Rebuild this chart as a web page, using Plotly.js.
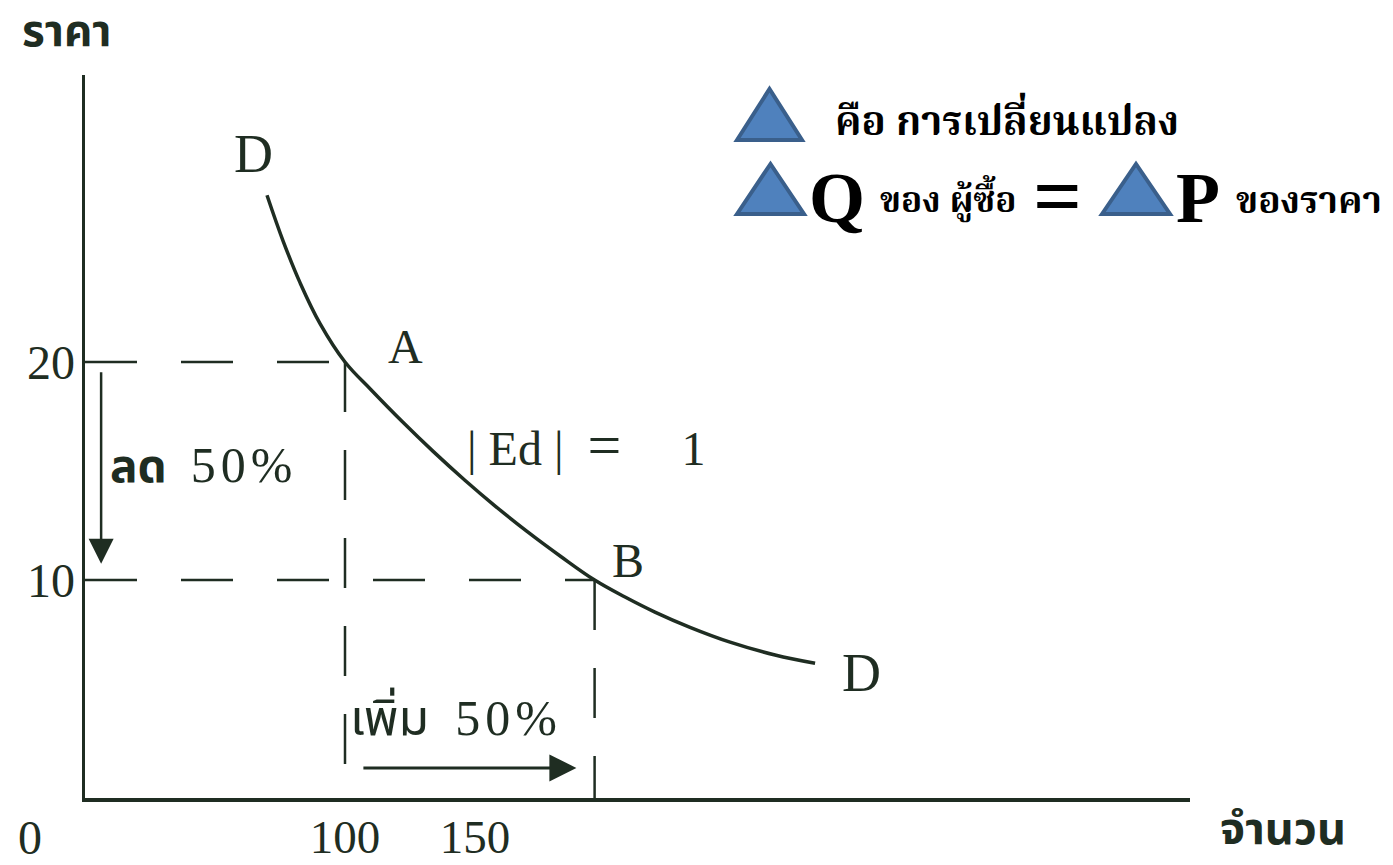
<!DOCTYPE html>
<html>
<head>
<meta charset="utf-8">
<script src="https://cdn.plot.ly/plotly-3.0.1.min.js"></script>
<style>html,body{margin:0;padding:0;background:#fff}#chart{width:1393px;height:865px}</style>
</head>
<body>
<div id="chart"></div>
<script>
// ---- data (axis units) ----
const quantity = [70, 76.2, 82.7, 90.4, 100, 110, 122, 134, 146, 158, 170, 183, 196, 207.7, 219.2, 232.7, 248.1, 265.4, 280.8];
const price    = [27.65, 25.55, 23.64, 21.76, 20, 18.73, 17.27, 15.89, 14.59, 13.37, 12.23, 11.08, 10, 9.22, 8.53, 7.83, 7.15, 6.56, 6.18];
const pointNames = ['A', 'B'];
const pointQ = [100, 196];
const pointP = [20, 10];
const xTickVals = [100, 150];
const xTickText = ['100', '150'];
const yTickVals = [10, 20];
const yTickText = ['10', '20'];
const originLabel = '0';
const yAxisLabel = 'ราคา';
const xAxisLabel = 'จำนวน';
const curveLabel = 'D';
const priceChangeWord = 'ลด';
const qtyChangeWord = 'เพิ่ม';
const changePct = '50%';
const elasticityParts = ['|', 'Ed', '|', '=', '1'];
const legendLine1 = 'คือ การเปลี่ยนแปลง';
const legendQ = 'Q', legendP = 'P';
const legendQText = 'ของ ผู้ซื้อ';
const legendPText = 'ของราคา';

// ---- style ----
const INK = '#1f2d22';
const SERIF = '"Liberation Serif", "Times New Roman", serif';
const THAI = '"Noto Sans Thai", "Noto Sans", "DejaVu Sans", sans-serif';
const THAI_SERIF = '"Noto Serif Thai", "Noto Sans Thai", "Liberation Serif", serif';
const TRI_FILL = '#4f81bd', TRI_LINE = '#3a5f8b';

const M = {l: 85, r: 203, t: 75, b: 67};
const W = 1393, H = 865;
const PW = W - M.l - M.r, PH = H - M.t - M.b;
const fx = px => (px - M.l) / PW;
const fy = py => (H - M.b - py) / PH;

const traces = [];
// demand curve
traces.push({x: quantity, y: price, mode: 'lines', line: {color: INK, width: 3.5, shape: 'spline', smoothing: 1.1}, hoverinfo: 'skip', showlegend: false});
// dashed guide lines from A and B
for (let i = 0; i < pointQ.length; i++) {
  traces.push({x: [0, pointQ[i]], y: [pointP[i], pointP[i]], mode: 'lines', line: {color: INK, width: 2.5, dash: '52px,44px'}, hoverinfo: 'skip', showlegend: false});
  traces.push({x: [pointQ[i], pointQ[i]], y: [pointP[i], 0], mode: 'lines', line: {color: INK, width: 2.5, dash: '50px,38px'}, hoverinfo: 'skip', showlegend: false});
}

const ann = [];
const txt = (text, x, y, size, family, opts) => Object.assign({text, x: fx(x), y: fy(y), xref: 'paper', yref: 'paper', showarrow: false, font: {size, family, color: INK}, xanchor: 'center', yanchor: 'middle'}, opts || {});
const serifSpan = s => `<span style="font-family:'Liberation Serif', serif;font-size:50px;letter-spacing:5px">${s}</span>`;
const sp = n => '\u00a0'.repeat(n);

ann.push(txt(yAxisLabel, 67, 33, 44, THAI, {font: {size: 44, family: THAI, color: INK, weight: 'bold'}}));
ann.push(txt(xAxisLabel, 1283, 830, 45, THAI, {font: {size: 45, family: THAI, color: INK, weight: 'bold'}}));
ann.push(txt(originLabel, 30, 837, 48, SERIF));
// point labels A, B
ann.push({text: pointNames[0], x: pointQ[0], y: pointP[0], xref: 'x', yref: 'y', showarrow: false, xshift: 60, yshift: 16, font: {size: 48, family: SERIF, color: INK}});
ann.push({text: pointNames[1], x: pointQ[1], y: pointP[1], xref: 'x', yref: 'y', showarrow: false, xshift: 33, yshift: 20, font: {size: 48, family: SERIF, color: INK}});
// curve labels D
ann.push({text: curveLabel, x: quantity[0], y: price[0], xref: 'x', yref: 'y', showarrow: false, xshift: -14, yshift: 41, font: {size: 54, family: SERIF, color: INK}});
ann.push({text: curveLabel, x: quantity[quantity.length - 1], y: price[price.length - 1], xref: 'x', yref: 'y', showarrow: false, xshift: 46, yshift: -10, font: {size: 54, family: SERIF, color: INK}});
// elasticity
const e = elasticityParts;
ann.push(txt(e[0] + sp(1) + e[1] + sp(1) + e[2] + sp(2) + '<span style="font-size:60px">' + e[3] + '</span>' + sp(5) + e[4], 465, 445, 48, SERIF, {xanchor: 'left'}));
// change labels
ann.push(txt('<b>' + priceChangeWord + '</b>' + sp(2) + serifSpan(changePct), 108, 468, 46, THAI, {xanchor: 'left'}));
ann.push(txt(qtyChangeWord + sp(2) + serifSpan(changePct), 348, 720, 50, THAI, {xanchor: 'left'}));
// arrows
ann.push({text: '', x: pointQ[0] * 0.062, y: pointP[1] + 0.75, ax: pointQ[0] * 0.062, ay: pointP[0] - 0.4, xref: 'x', yref: 'y', axref: 'x', ayref: 'y', showarrow: true, arrowhead: 2, arrowsize: 2, arrowwidth: 2.5, arrowcolor: INK});
ann.push({text: '', x: pointQ[1] - 7, y: 1.38, ax: pointQ[0] + 6.5, ay: 1.38, xref: 'x', yref: 'y', axref: 'x', ayref: 'y', showarrow: true, arrowhead: 2, arrowsize: 1.8, arrowwidth: 3, arrowcolor: INK});
// legend text
const bold = (s, f) => ({size: s, family: f, color: '#000', weight: 'bold'});
ann.push(txt(legendLine1, 833, 124, 40, THAI_SERIF, {xanchor: 'left', font: bold(40, THAI_SERIF)}));
ann.push(txt(legendQ, 837, 198, 72, SERIF, {font: bold(72, SERIF)}));
ann.push(txt(legendQText, 878, 203, 35, THAI_SERIF, {xanchor: 'left', font: bold(35, THAI_SERIF)}));
ann.push(txt('=', 1057, 196, 86, SERIF, {font: bold(86, SERIF)}));
ann.push(txt(legendP, 1198, 198, 72, SERIF, {font: bold(72, SERIF)}));
ann.push(txt(legendPText, 1234, 203, 37, THAI_SERIF, {xanchor: 'left', font: bold(37, THAI_SERIF)}));

// legend triangles (decoration)
const tri = (x0, x1, yb, yt) => ({type: 'path', xref: 'paper', yref: 'paper',
  path: `M ${fx(x0)} ${fy(yb)} L ${fx((x0 + x1) / 2)} ${fy(yt)} L ${fx(x1)} ${fy(yb)} Z`,
  fillcolor: TRI_FILL, line: {color: TRI_LINE, width: 4}});
const shapes = [tri(737, 802, 140, 89), tri(737, 804, 214, 164), tri(1102, 1170, 214, 164)];

const layout = {
  width: W, height: H, margin: M,
  paper_bgcolor: '#ffffff', plot_bgcolor: '#ffffff',
  showlegend: false,
  xaxis: {range: [0, PW / 2.6], showline: true, linecolor: INK, linewidth: 3.5, showgrid: false, zeroline: false,
    tickvals: xTickVals, ticktext: xTickText, ticks: '', tickfont: {size: 47, family: SERIF, color: INK}, ticklabelstandoff: -5, fixedrange: true},
  yaxis: {range: [0, PH / 21.8], showline: true, linecolor: INK, linewidth: 3.5, showgrid: false, zeroline: false,
    tickvals: yTickVals, ticktext: yTickText, ticks: '', tickfont: {size: 48, family: SERIF, color: INK}, ticklabelstandoff: -3, fixedrange: true},
  annotations: ann,
  shapes: shapes
};
Plotly.newPlot('chart', traces, layout, {displayModeBar: false, staticPlot: true});
</script>
</body>
</html>
